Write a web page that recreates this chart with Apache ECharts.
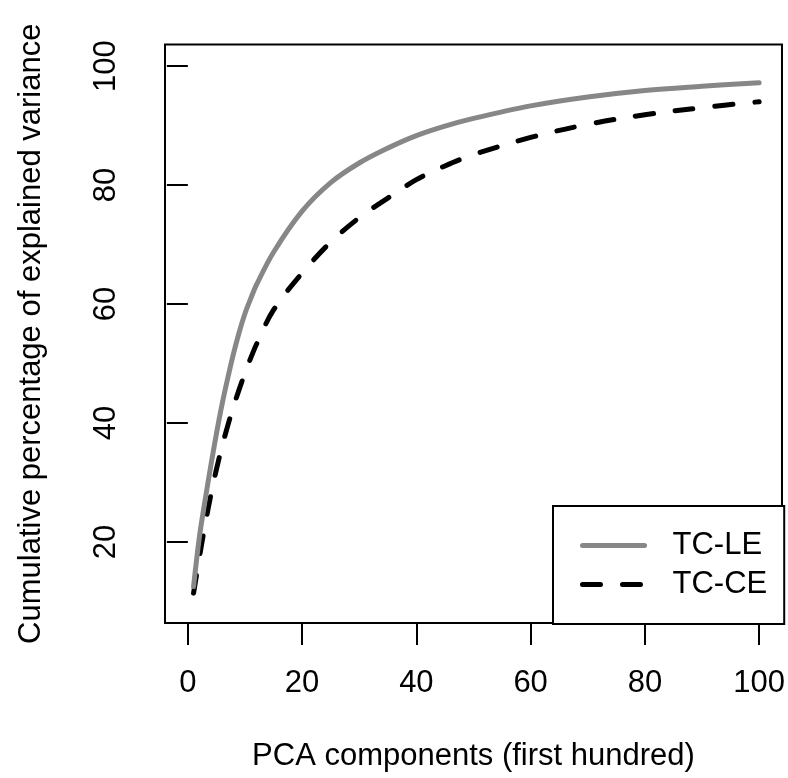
<!DOCTYPE html>
<html>
<head>
<meta charset="utf-8">
<script src="https://cdn.jsdelivr.net/npm/echarts@6/dist/echarts.min.js"></script>
<style>
  html, body { margin: 0; padding: 0; background: #ffffff; }
  #chart { width: 788px; height: 778px; }
</style>
</head>
<body>
<div id="chart"></div>
<script>
// Data
const components = [1, 2, 3, 4, 5, 6, 7, 8, 9, 10, 11, 12, 15, 20, 25, 30, 35, 40, 45, 50, 60, 70, 80, 90, 100];
const tcLE = [12.5, 20.7, 26.9, 32.7, 38.2, 43.2, 47.6, 51.7, 55.3, 58.4, 60.9, 63.2, 68.7, 75.6, 80.4, 83.7, 86.2, 88.3, 89.9, 91.2, 93.3, 94.8, 95.9, 96.6, 97.2];
const tcCE = [11.4, 17.3, 22.8, 27.8, 32.2, 36.1, 39.6, 42.8, 45.7, 48.4, 50.9, 53.2, 59.0, 65.2, 70.4, 74.5, 77.8, 80.9, 83.2, 85.1, 88.0, 90.2, 91.8, 93.0, 94.0];
const xTicks = [0, 20, 40, 60, 80, 100];
const yTicks = [20, 40, 60, 80, 100];
const seriesNames = ['TC-LE', 'TC-CE'];

const FONT = '"Liberation Sans", Arial, Helvetica, sans-serif';
const FS = 31;

const chart = echarts.init(document.getElementById('chart'), null, { renderer: 'canvas' });

const toPairs = (xs, ys) => xs.map((x, i) => [x, ys[i]]);

chart.setOption({
  animation: false,
  backgroundColor: '#ffffff',
  textStyle: { fontFamily: FONT },
  grid: {
    left: 165, top: 44.6, width: 619, height: 578.3,
    show: true, borderColor: '#000', borderWidth: 2, backgroundColor: 'transparent'
  },
  legend: {
    left: 553, top: 506,
    orient: 'vertical',
    backgroundColor: '#fff',
    borderColor: '#000', borderWidth: 2, borderRadius: 0,
    padding: [24, 17, 24, 27],
    itemWidth: 62, itemHeight: 30, itemGap: 8,
    textStyle: { fontFamily: FONT, fontSize: FS, color: '#000', lineHeight: 30, padding: [0, 0, 0, 23] },
    lineStyle: { width: 5 },
    itemStyle: { opacity: 0, borderWidth: 0 },
    data: seriesNames
  },
  xAxis: {
    type: 'value', min: -4, max: 104,
    name: 'PCA components (first hundred)',
    nameLocation: 'middle', nameGap: 119,
    nameTextStyle: { fontFamily: FONT, fontSize: FS, color: '#000', lineHeight: 30 },
    axisLine: { show: false },
    splitLine: { show: false },
    axisTick: { show: true, inside: false, length: 22, customValues: xTicks, lineStyle: { color: '#000', width: 2 } },
    axisLabel: { show: true, margin: 46, customValues: xTicks, fontFamily: FONT, fontSize: FS, color: '#000', lineHeight: 30 }
  },
  yAxis: {
    type: 'value', min: 6.4, max: 103.6,
    name: 'Cumulative percentage of explained variance',
    nameLocation: 'middle', nameGap: 119, nameRotate: 90,
    nameTextStyle: { fontFamily: FONT, fontSize: FS, color: '#000', lineHeight: 30 },
    axisLine: { show: false },
    splitLine: { show: false },
    axisTick: { show: true, inside: false, length: 21, customValues: yTicks, lineStyle: { color: '#000', width: 2 } },
    axisLabel: { show: true, rotate: 90, margin: 44, customValues: yTicks, fontFamily: FONT, fontSize: FS, color: '#000', lineHeight: 30 }
  },
  series: [
    {
      name: seriesNames[0], type: 'line',
      data: toPairs(components, tcLE),
      smooth: 0.35,
      symbol: 'none', showSymbol: false,
      lineStyle: { color: '#878787', width: 5, cap: 'round', join: 'round' },
      itemStyle: { color: '#878787' },
      z: 3
    },
    {
      name: seriesNames[1], type: 'line',
      data: toPairs(components, tcCE),
      smooth: 0.35,
      symbol: 'none', showSymbol: false,
      lineStyle: { color: '#000', width: 5, type: [18, 22], cap: 'round', join: 'round' },
      itemStyle: { color: '#000' },
      z: 2
    }
  ]
});
</script>
</body>
</html>
